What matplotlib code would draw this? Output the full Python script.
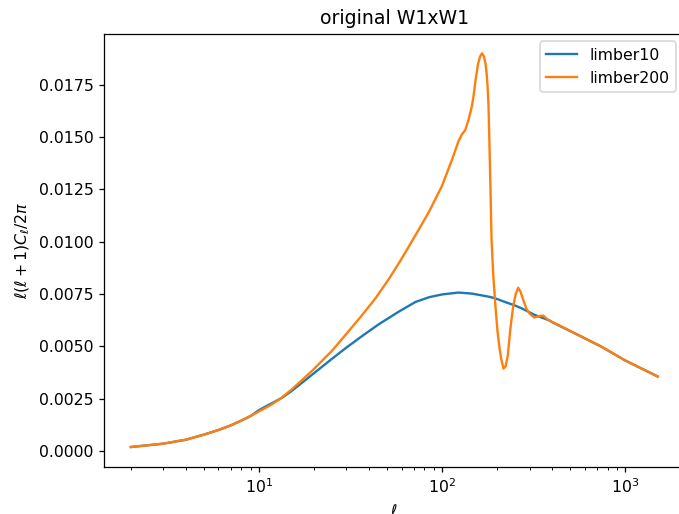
import matplotlib
matplotlib.use('Agg')
import matplotlib.pyplot as plt
import numpy as np

# multipoles and l(l+1)C_l/2pi for the two limber cuts
ell_10 = [2, 3, 4, 5, 6, 7, 8, 9, 10, 11, 12, 13.4, 15, 18, 19.6, 25, 29.7,
          36, 45, 58, 71.5, 85, 100, 122.8, 145, 178, 194, 220, 250, 271, 320,
          379, 410, 550, 738, 1000, 1500]
cl_10 = [0.00019, 0.00035, 0.00054, 0.00078, 0.00100, 0.00122, 0.00145,
         0.00167, 0.00195, 0.00215, 0.00232, 0.00255, 0.00285, 0.00340,
         0.00366, 0.00440, 0.00491, 0.00545, 0.00605, 0.00666, 0.00712,
         0.00735, 0.00748, 0.00757, 0.00752, 0.00738, 0.00730, 0.00712,
         0.00695, 0.00682, 0.00650, 0.00626, 0.00610, 0.00555, 0.00499,
         0.00432, 0.00356]

ell_200 = [2, 3, 4, 5, 6, 7, 8, 9, 10, 11.5, 13, 15, 18, 19.6, 25, 29.7, 36,
           43.3, 51.2, 60.4, 71.4, 84.4, 99.6, 113, 122.8, 128, 133.6, 139,
           145, 148, 152, 157, 161, 165, 169, 172.5, 175, 177, 179, 181,
           183.5, 186, 190, 195, 200, 205, 210, 216, 222, 228, 236, 244, 252,
           260, 268, 277, 288, 301, 318, 340, 356, 375, 395, 430, 550, 738,
           1000, 1500]
cl_200 = [0.00019, 0.00035, 0.00054, 0.00078, 0.00100, 0.00122, 0.00145,
          0.00167, 0.00189, 0.00218, 0.00248, 0.00292, 0.00355, 0.00385,
          0.00478, 0.00555, 0.00642, 0.00730, 0.00822, 0.00922, 0.01030,
          0.01140, 0.01265, 0.01390, 0.01480, 0.01512, 0.01533, 0.01580,
          0.01644, 0.01690, 0.01770, 0.01850, 0.01885, 0.01900, 0.01885,
          0.01850, 0.01800, 0.01740, 0.01650, 0.01480, 0.01250, 0.01010,
          0.00840, 0.00700, 0.00580, 0.00500, 0.00440, 0.00394, 0.00405,
          0.00455, 0.00590, 0.00690, 0.00750, 0.00780, 0.00760, 0.00722,
          0.00680, 0.00655, 0.00638, 0.00645, 0.00647, 0.00630, 0.00618,
          0.00603, 0.00555, 0.00499, 0.00432, 0.00356]

fig = plt.figure(figsize=(679 / 113, 514 / 113), dpi=113)
ax = fig.add_axes([0.1539, 0.092, 0.8535, 0.8426])

ax.plot(ell_10, cl_10, label='limber10')
ax.plot(ell_200, cl_200, label='limber200')
ax.set_xscale('log')

ax.set_title('original W1xW1')
ax.set_xlabel(r'$\ell$')
ax.set_ylabel(r'$\ell(\ell+1)C_\ell/2\pi$')
ax.legend(loc='upper right')

plt.savefig('out.png', dpi=113)
